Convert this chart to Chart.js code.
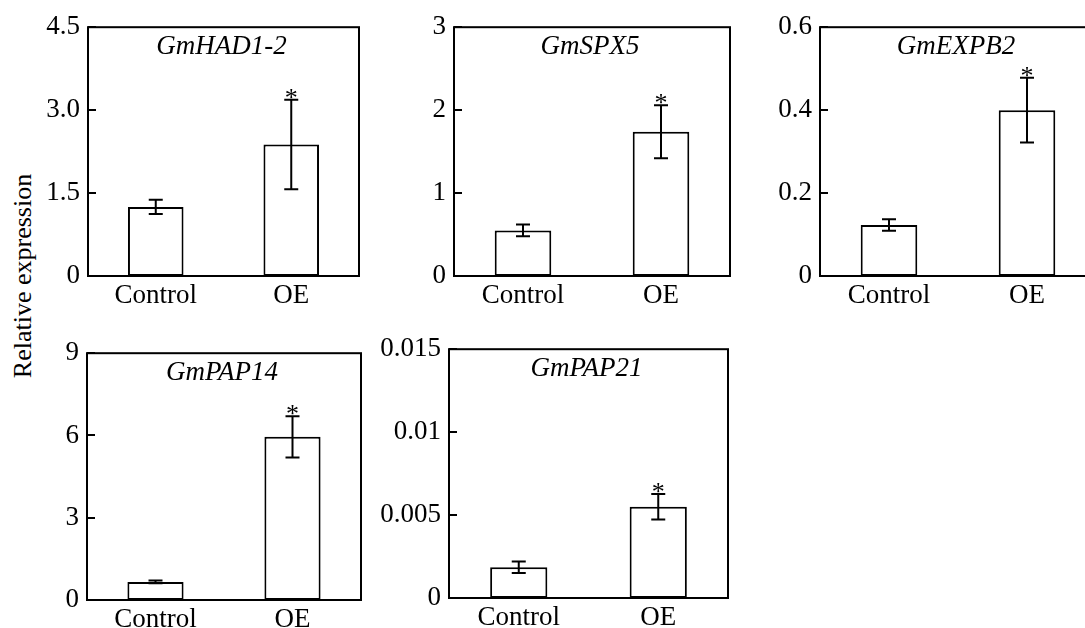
<!DOCTYPE html>
<html>
<head>
<meta charset="utf-8">
<script src="https://cdn.jsdelivr.net/npm/chart.js@4.4.0/dist/chart.umd.min.js"></script>
<style>
  html, body { margin: 0; padding: 0; background: #fff; overflow: hidden; }
  body { width: 1085px; height: 628px; position: relative; }
  canvas { position: absolute; }
  #ylabel {
    position: absolute; left: 23px; top: 276px;
    transform: translate(-50%, -50%) rotate(-90deg);
    font: 26px "Liberation Serif", "Times New Roman", serif;
    white-space: nowrap; color: #000;
  }
</style>
</head>
<body>
<div id="ylabel">Relative expression</div>
<canvas id="c0"></canvas>
<canvas id="c1"></canvas>
<canvas id="c2"></canvas>
<canvas id="c3"></canvas>
<canvas id="c4"></canvas>
<script>
// data
const categories = ['Control', 'OE'];
const genes = ['GmHAD1-2', 'GmSPX5', 'GmEXPB2', 'GmPAP14', 'GmPAP21'];

const meanHAD = [1.25, 2.38];
const errHAD = [0.13, 0.81];
const meanSPX = [0.55, 1.74];
const errSPX = [0.07, 0.32];
const meanEXPB = [0.123, 0.40];
const errEXPB = [0.014, 0.078];
const meanPAP14 = [0.66, 5.95];
const errPAP14 = [0.05, 0.75];
const meanPAP21 = [0.00185, 0.0055];
const errPAP21 = [0.00035, 0.00077];
const significant = [false, true];

const tickValsHAD = [0, 1.5, 3, 4.5];
const tickLblHAD = ['0', '1.5', '3.0', '4.5'];
const tickValsSPX = [0, 1, 2, 3];
const tickLblSPX = ['0', '1', '2', '3'];
const tickValsEXPB = [0, 0.2, 0.4, 0.6];
const tickLblEXPB = ['0', '0.2', '0.4', '0.6'];
const tickValsPAP14 = [0, 3, 6, 9];
const tickLblPAP14 = ['0', '3', '6', '9'];
const tickValsPAP21 = [0, 0.005, 0.01, 0.015];
const tickLblPAP21 = ['0', '0.005', '0.01', '0.015'];

const FONT = '"Liberation Serif", "Times New Roman", serif';
Chart.defaults.font.family = FONT;
Chart.defaults.font.size = 27;
Chart.defaults.color = '#000';

const Y_W = 80;   // y axis width
const X_H = 50;   // x axis height
const PAD_T = 20;
const PAD_R = 10;

// panel plot areas: left, top, width, height
const panels = [
  { id: 'c0', left: 88, top: 23, w: 271, h: 253, mean: meanHAD, err: errHAD, ticks: tickValsHAD, labels: tickLblHAD },
  { id: 'c1', left: 454, top: 23, w: 276, h: 253, mean: meanSPX, err: errSPX, ticks: tickValsSPX, labels: tickLblSPX },
  { id: 'c2', left: 820, top: 23, w: 276, h: 253, mean: meanEXPB, err: errEXPB, ticks: tickValsEXPB, labels: tickLblEXPB },
  { id: 'c3', left: 87, top: 349, w: 274, h: 251, mean: meanPAP14, err: errPAP14, ticks: tickValsPAP14, labels: tickLblPAP14 },
  { id: 'c4', left: 449, top: 345, w: 279, h: 253, mean: meanPAP21, err: errPAP21, ticks: tickValsPAP21, labels: tickLblPAP21 }
];

// box, inward ticks, error bars, asterisks and gene name
const panelDecor = {
  id: 'panelDecor',
  afterDatasetsDraw(chart, args, opts) {
    const ctx = chart.ctx;
    const a = chart.chartArea;
    const x = chart.scales.x;
    const y = chart.scales.y;
    ctx.save();
    ctx.strokeStyle = '#000';
    ctx.lineWidth = 2;
    ctx.strokeRect(a.left, a.top, a.right - a.left, a.bottom - a.top);

    ctx.beginPath();
    opts.ticks.forEach(v => {
      const py = Math.round(y.getPixelForValue(v));
      ctx.moveTo(a.left, py);
      ctx.lineTo(a.left + 8, py);
    });
    ctx.stroke();

    opts.mean.forEach((m, i) => {
      const px = x.getPixelForValue(i);
      const hi = y.getPixelForValue(m + opts.err[i]);
      const lo = y.getPixelForValue(m - opts.err[i]);
      ctx.beginPath();
      ctx.moveTo(px, hi); ctx.lineTo(px, lo);
      ctx.moveTo(px - 7, hi); ctx.lineTo(px + 7, hi);
      ctx.moveTo(px - 7, lo); ctx.lineTo(px + 7, lo);
      ctx.stroke();
      if (significant[i]) {
        ctx.fillStyle = '#000';
        ctx.font = '26px ' + FONT;
        ctx.textAlign = 'center';
        ctx.textBaseline = 'alphabetic';
        ctx.fillText('*', px, hi + 6);
      }
    });

    ctx.fillStyle = '#000';
    ctx.font = 'italic 27px ' + FONT;
    ctx.textAlign = 'center';
    ctx.textBaseline = 'alphabetic';
    ctx.fillText(opts.title, (a.left + a.right) / 2 - 2, a.top + 27);
    ctx.restore();
  }
};

panels.forEach((p, k) => {
  const canvas = document.getElementById(p.id);
  canvas.width = Y_W + p.w + PAD_R;
  canvas.height = PAD_T + p.h + X_H;
  canvas.style.left = (p.left - Y_W) + 'px';
  canvas.style.top = (p.top - PAD_T) + 'px';

  new Chart(canvas, {
    type: 'bar',
    data: {
      labels: categories,
      datasets: [{
        data: p.mean,
        backgroundColor: '#fff',
        borderColor: '#000',
        borderWidth: 2,
        borderSkipped: false,
        barPercentage: 0.41,
        categoryPercentage: 1
      }]
    },
    options: {
      responsive: false,
      animation: false,
      devicePixelRatio: 1,
      layout: { padding: { top: PAD_T, right: PAD_R, left: 0, bottom: 0 } },
      plugins: {
        legend: { display: false },
        tooltip: { enabled: false },
        panelDecor: { mean: p.mean, err: p.err, ticks: p.ticks, title: genes[k] }
      },
      scales: {
        x: {
          grid: { display: false, drawTicks: false },
          border: { display: false },
          ticks: { padding: 4, maxRotation: 0 },
          afterFit: s => { s.height = X_H; }
        },
        y: {
          min: p.ticks[0],
          max: p.ticks[p.ticks.length - 1],
          grid: { display: false, drawTicks: false },
          border: { display: false },
          afterBuildTicks: s => { s.ticks = p.ticks.map(v => ({ value: v })); },
          ticks: {
            padding: 8,
            callback: (v, i) => p.labels[i]
          },
          afterFit: s => { s.width = Y_W; }
        }
      }
    },
    plugins: [panelDecor]
  });
});
</script>
</body>
</html>
